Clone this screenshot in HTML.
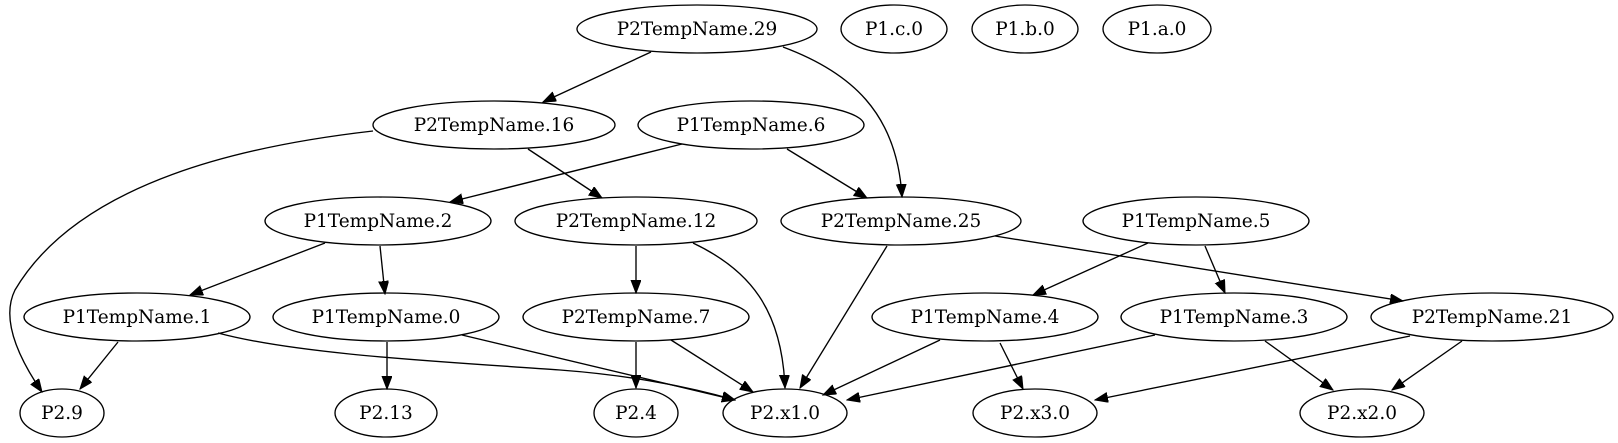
<!DOCTYPE html>
<html><head><meta charset="utf-8"><style>
html,body{margin:0;padding:0;background:#fff;}
svg{display:block;}
text{font-family:"DejaVu Serif","Liberation Serif",serif;font-size:18.5px;fill:#000;text-anchor:middle;}
ellipse{fill:none;stroke:#000;stroke-width:1.35;}
path{fill:none;stroke:#000;stroke-width:1.35;}
</style></head><body>
<svg width="1618" height="443" viewBox="0 0 1618 443" xmlns="http://www.w3.org/2000/svg">
<defs>
<marker id="a" markerUnits="userSpaceOnUse" markerWidth="14" markerHeight="12" refX="13" refY="5" orient="auto">
<path d="M0,0 L13,5 L0,10 Z" style="fill:#000;stroke:#000;stroke-width:1"/>
</marker>
</defs>
<g>
<ellipse cx="697" cy="29" rx="120" ry="24"/><text x="697" y="35">P2TempName.29</text>
<ellipse cx="894" cy="29" rx="53" ry="24"/><text x="894" y="35">P1.c.0</text>
<ellipse cx="1025" cy="29" rx="53" ry="24"/><text x="1025" y="35">P1.b.0</text>
<ellipse cx="1157" cy="29" rx="54" ry="24"/><text x="1157" y="35">P1.a.0</text>

<ellipse cx="494" cy="125" rx="121" ry="24"/><text x="494" y="131">P2TempName.16</text>
<ellipse cx="751" cy="125" rx="113" ry="24"/><text x="751" y="131">P1TempName.6</text>

<ellipse cx="378" cy="221" rx="113" ry="24"/><text x="378" y="227">P1TempName.2</text>
<ellipse cx="636" cy="221" rx="121" ry="24"/><text x="636" y="227">P2TempName.12</text>
<ellipse cx="901" cy="221" rx="120" ry="24"/><text x="901" y="227">P2TempName.25</text>
<ellipse cx="1196" cy="221" rx="113" ry="24"/><text x="1196" y="227">P1TempName.5</text>

<ellipse cx="137" cy="317" rx="113" ry="24"/><text x="137" y="323">P1TempName.1</text>
<ellipse cx="386" cy="317" rx="113" ry="24"/><text x="386" y="323">P1TempName.0</text>
<ellipse cx="636" cy="317" rx="113" ry="24"/><text x="636" y="323">P2TempName.7</text>
<ellipse cx="985" cy="317" rx="113" ry="24"/><text x="985" y="323">P1TempName.4</text>
<ellipse cx="1234" cy="317" rx="113" ry="24"/><text x="1234" y="323">P1TempName.3</text>
<ellipse cx="1492" cy="317" rx="121" ry="24"/><text x="1492" y="323">P2TempName.21</text>

<ellipse cx="62" cy="413" rx="42" ry="24"/><text x="62" y="419">P2.9</text>
<ellipse cx="386" cy="413" rx="51" ry="24"/><text x="386" y="419">P2.13</text>
<ellipse cx="636" cy="413" rx="42" ry="24"/><text x="636" y="419">P2.4</text>
<ellipse cx="785" cy="413" rx="62" ry="24"/><text x="785" y="419">P2.x1.0</text>
<ellipse cx="1035" cy="413" rx="62" ry="24"/><text x="1035" y="419">P2.x3.0</text>
<ellipse cx="1362" cy="413" rx="62" ry="24"/><text x="1362" y="419">P2.x2.0</text>
</g>
<g marker-end="url(#a)">
<path d="M651,52 L543,102"/>
<path d="M783,47 C850,72 897,112 902,197"/>
<path d="M373,131 C250,145 80,180 15,290 C0,320 20,360 42,392"/>
<path d="M528,149 L602,198"/>
<path d="M682,144 L450,202"/>
<path d="M787,149 L867,198"/>
<path d="M325,243 L190,295"/>
<path d="M380,246 L385,294"/>
<path d="M636,246 L636,293"/>
<path d="M693,243 C750,270 782,310 785,388"/>
<path d="M887,246 L800,388"/>
<path d="M995,236 L1403,301"/>
<path d="M1148,243 L1033,295"/>
<path d="M1205,246 L1225,293"/>
<path d="M671,340 L753,392"/>
<path d="M636,342 L636,388"/>
<path d="M462,335 L735,400"/>
<path d="M218,333 C300,355 450,362 560,370 C640,376 700,390 735,400"/>
<path d="M387,342 L387,389"/>
<path d="M118,342 L80,389"/>
<path d="M940,340 L823,395"/>
<path d="M1000,343 L1023,389"/>
<path d="M1155,335 L847,400"/>
<path d="M1410,336 L1095,400"/>
<path d="M1265,341 L1333,390"/>
<path d="M1462,341 L1392,390"/>
</g>
</svg>
</body></html>
